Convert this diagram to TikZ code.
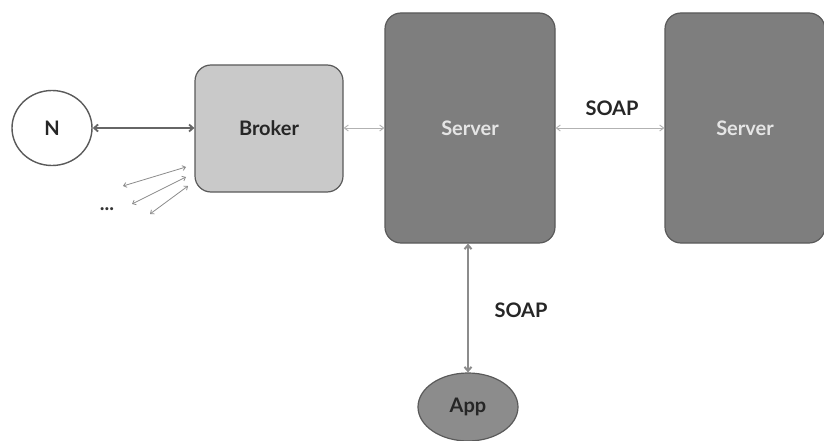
\documentclass[tikz,border=0pt]{standalone}
\usepackage{fontspec}
\setmainfont{Lato}
\usetikzlibrary{arrows.meta,shapes.geometric}
\definecolor{brokerfill}{HTML}{C9C9C9}
\definecolor{serverfill}{HTML}{7E7E7E}
\definecolor{appfill}{HTML}{8C8C8C}
\definecolor{edgegray}{HTML}{5A5A5A}
\begin{document}
\begin{tikzpicture}[x=1pt,y=-1pt,
  box/.style={draw=edgegray,line width=1.2pt,rounded corners=16pt,inner sep=0pt},
  lbl/.style={font=\fontsize{20}{24}\selectfont\bfseries},
  thinarrow/.style={draw=black!30,line width=0.9pt,{Straight Barb[length=4pt,width=6pt]}-{Straight Barb[length=4pt,width=6pt]}},
  thickarrow/.style={draw=black!60,line width=1.8pt,{Straight Barb[length=4pt,width=7pt]}-{Straight Barb[length=4pt,width=7pt]}},
  smallarrow/.style={draw=black!45,line width=0.8pt,{Straight Barb[length=3pt,width=5pt]}-{Straight Barb[length=3pt,width=5pt]}}]
\useasboundingbox[fill=white] (0,0) rectangle (824,441);
\node[box,fill=brokerfill,minimum width=148pt,minimum height=127pt,lbl,text=black!85] (broker) at (269,128.5) {Broker};
\node[box,fill=serverfill,minimum width=170pt,minimum height=230pt,lbl,text=white!90!black] (s1) at (470,128) {Server};
\node[box,fill=serverfill,minimum width=160pt,minimum height=230pt,lbl,text=white!90!black] (s2) at (745,128) {Server};
\node[draw=edgegray,line width=1.4pt,fill=white,ellipse,minimum width=80pt,minimum height=75pt,inner sep=0pt,lbl,text=black!85] (n) at (52,128) {N};
\node[draw=edgegray,line width=1.2pt,fill=appfill,ellipse,minimum width=100pt,minimum height=68pt,inner sep=0pt,lbl,text=black!85] (app) at (468,407) {App};
\draw[thickarrow] (n.east) -- (broker.west |- n.east);
\draw[thinarrow] (broker.east |- 0,128) -- (s1.west |- 0,128);
\draw[thinarrow] (s1.east |- 0,128) -- (s2.west |- 0,128);
\draw[draw=black!45,line width=2pt,{Straight Barb[length=4pt,width=7pt]}-{Straight Barb[length=4pt,width=7pt]}] (s1.south -| app.north) -- (app.north);
\node[lbl,text=black!85] (soap1) at (612,108) {SOAP};
\node[lbl,text=black!85] (soap2) at (521,310) {SOAP};
\coordinate (a1) at (123,186);
\coordinate (b1) at (186,167);
\coordinate (a2) at (132,204);
\coordinate (b2) at (186,177);
\coordinate (a3) at (150,214);
\coordinate (b3) at (188,186);
\draw[smallarrow] (a1) -- (b1);
\draw[smallarrow] (a2) -- (b2);
\draw[smallarrow] (a3) -- (b3);
\node[lbl,text=black!80] (dots) at (107,209) {...};
\end{tikzpicture}
\end{document}
